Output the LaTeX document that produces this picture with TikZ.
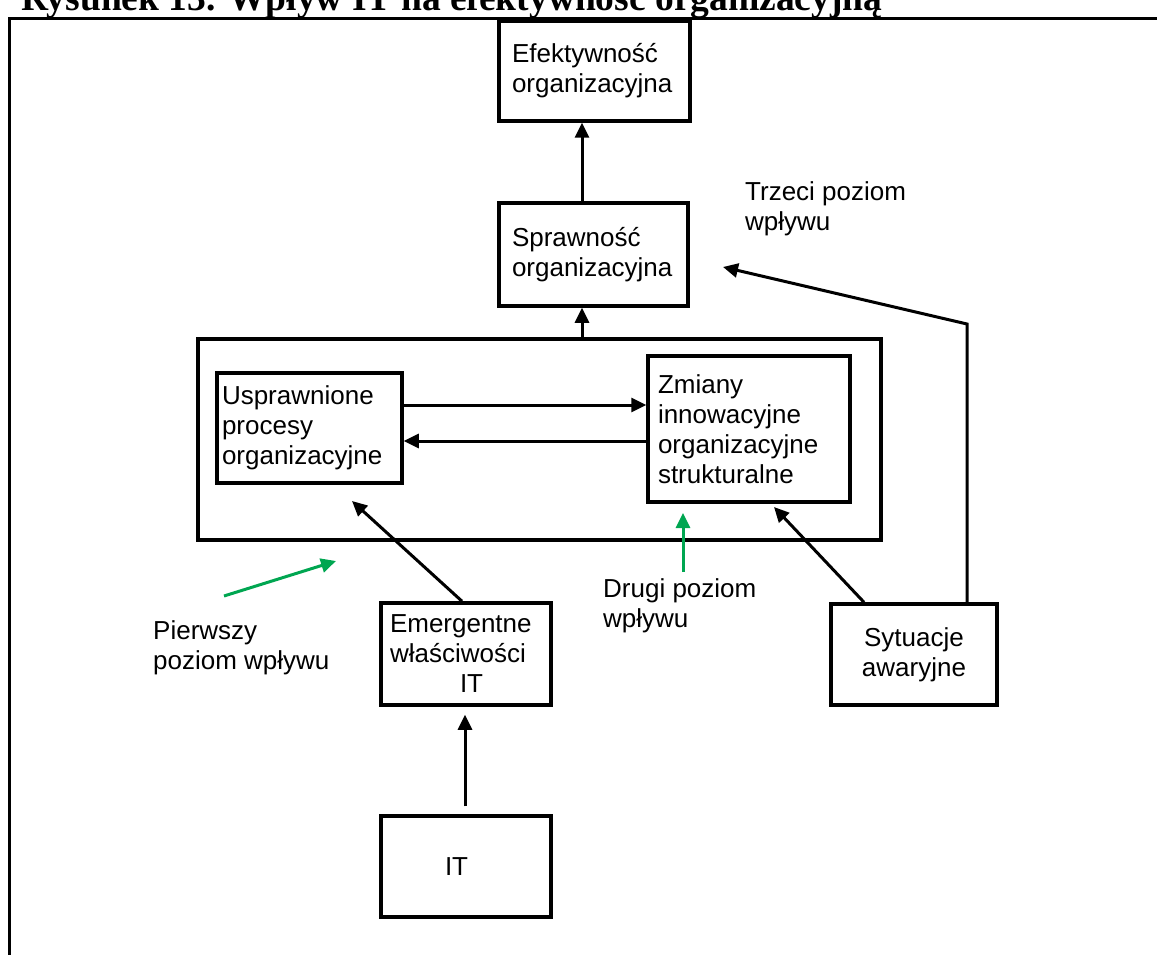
\documentclass[tikz,border=0pt]{standalone}
\usepackage{fontspec}
\setmainfont{Liberation Sans}
\newfontfamily\titlefont{Liberation Serif}
\usetikzlibrary{arrows.meta}
\definecolor{lvlgreen}{RGB}{0,166,81}

\begin{document}
\begin{tikzpicture}[x=1pt,y=-1pt,
  box/.style={draw, line width=3.5pt, inner sep=0pt, align=left,
              font=\fontsize{26}{30}\selectfont},
  lbl/.style={inner sep=0pt, align=left, anchor=base west,
              font=\fontsize{26}{30}\selectfont},
  arr/.style={line width=3pt, -{Triangle[length=15pt,width=14pt]}},
  garr/.style={arr, draw=lvlgreen}
]
\useasboundingbox (0,0) rectangle (1157,955);
\clip (0,0) rectangle (1157,955);

% caption and page frame
\node[anchor=base west, inner sep=0pt,
      font=\titlefont\bfseries\fontsize{37.5}{40}\selectfont]
  (title) at (21,11) {Rysunek 13. Wpływ IT na efektywność organizacyjną};
\draw[line width=3pt] (9,990) -- (9,19) -- (1180,19);

% boxes
\node[box, minimum width=191pt, minimum height=100pt, text width=165pt]
  (efe) at (594.5,71) {Efektywność\\organizacyjna};
\node[box, minimum width=189pt, minimum height=103pt, text width=163pt]
  (spr) at (593.5,254.5) {Sprawność\\organizacyjna};
\node[box, line width=4pt, minimum width=683pt, minimum height=201pt]
  (big) at (539.5,439.5) {};
\node[box, minimum width=185pt, minimum height=110pt, text width=175pt]
  (usp) at (309.5,428) {Usprawnione\\procesy\\organizacyjne};
\node[box, minimum width=202pt, minimum height=146pt, text width=182pt]
  (zmi) at (749,429) {Zmiany\\innowacyjne\\organizacyjne\\strukturalne};
\node[box, minimum width=170pt, minimum height=102pt, text width=152pt]
  (eme) at (466,654) {Emergentne\\właściwości\\\hspace*{70pt}IT};
\node[box, minimum width=170pt, minimum height=101pt, text width=42pt]
  (itb) at (466,866.5) {IT};
\node[box, align=center, minimum width=166pt, minimum height=101pt, text width=150pt]
  (syt) at (914,654.5) {Sytuacje\\awaryjne};

% free labels (anchored at the baseline of their last line)
\node[lbl] (l3) at (745,230) {Trzeci poziom\\wpływu};
\node[lbl] (l1) at (153,669) {Pierwszy\\poziom wpływu};
\node[lbl] (l2) at (603,627) {Drugi poziom\\wpływu};

% helper coordinates
\coordinate (ax) at (582,0);
\coordinate (ya) at (0,405);
\coordinate (yb) at (0,441);
\coordinate (ix) at (465,0);
\coordinate (ex) at (462,0);
\coordinate (sx1) at (864,0);
\coordinate (sx2) at (967,0);
\coordinate (t1) at (352,501);
\coordinate (t2) at (774,507);
\coordinate (bend) at (967,324);
\coordinate (t3) at (723,267);
\coordinate (g1s) at (683,572);
\coordinate (g1e) at (683,513);
\coordinate (g2s) at (224,596);
\coordinate (g2e) at (336,561);

% connectors
\draw[arr] (spr.north -| ax) -- (efe.south -| ax);
\draw[arr] (big.north -| ax) -- (spr.south -| ax);
\draw[arr] (usp.east |- ya) -- (zmi.west |- ya);
\draw[arr] (zmi.west |- yb) -- (usp.east |- yb);
\draw[arr] (eme.north -| ex) -- (t1);
\draw[arr, shorten <=8pt, shorten >=8pt] (itb.north -| ix) -- (eme.south -| ix);
\draw[arr] (syt.north -| sx1) -- (t2);
\draw[arr] (syt.north -| sx2) -- (bend) -- (t3);
\draw[garr] (g1s) -- (g1e);
\draw[garr] (g2s) -- (g2e);
\end{tikzpicture}
\end{document}
